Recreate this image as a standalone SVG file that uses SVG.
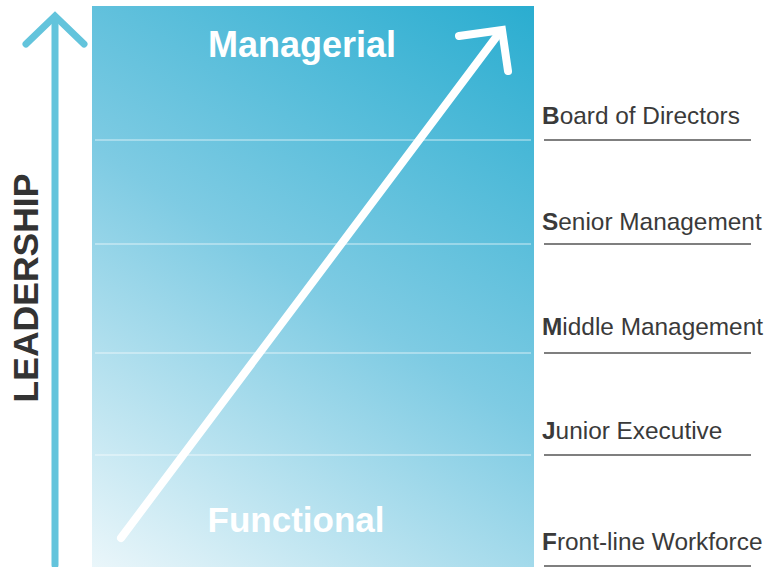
<svg xmlns="http://www.w3.org/2000/svg" width="782" height="567" viewBox="0 0 782 567">
<defs>
<linearGradient id="bg" gradientUnits="userSpaceOnUse" x1="92" y1="567" x2="469" y2="-35">
<stop offset="0" stop-color="#eaf6fa"/>
<stop offset="0.5" stop-color="#7ecbe3"/>
<stop offset="1" stop-color="#2aadd0"/>
</linearGradient>
<style>
.lbl{font-family:"Liberation Sans",Arial,sans-serif;font-size:24.4px;fill:#3a3a3a}
.lbl tspan.b{font-weight:bold}
.rule{stroke:#555;stroke-width:1.3}
.band{stroke:#ffffff;stroke-opacity:0.7;stroke-width:1.2}
.big{font-family:"Liberation Sans",Arial,sans-serif;font-weight:bold;fill:#fff;text-anchor:middle}
</style>
</defs>
<g id="panel">
<rect x="92" y="6" width="442" height="561" fill="url(#bg)"/>
<line class="band" x1="95" y1="140" x2="531" y2="140"/>
<line class="band" x1="95" y1="244" x2="531" y2="244"/>
<line class="band" x1="95" y1="353" x2="531" y2="353"/>
<line class="band" x1="95" y1="455" x2="531" y2="455"/>
<text class="big" x="302" y="57" font-size="36">Managerial</text>
<text class="big" x="296" y="532" font-size="35">Functional</text>
</g>
<g id="connectors">
<line x1="121" y1="538" x2="497" y2="36" stroke="#fff" stroke-width="8" stroke-linecap="round"/>
<polyline points="459,36 502,30 508,71" fill="none" stroke="#fff" stroke-width="8" stroke-linecap="round" stroke-linejoin="miter"/>
<line x1="55" y1="18" x2="55" y2="565" stroke="#63c4dc" stroke-width="7" stroke-linecap="round"/>
<polyline points="26,44 55,16 84,44" fill="none" stroke="#63c4dc" stroke-width="7" stroke-linecap="round"/>
</g>
<g id="leadership">
<text x="38" y="288" transform="rotate(-90 38 288)" text-anchor="middle" font-family="Liberation Sans,Arial,sans-serif" font-weight="bold" font-size="35.5" fill="#333">LEADERSHIP</text>
</g>
<g id="board">
<text class="lbl" x="542" y="124"><tspan class="b">B</tspan>oard of Directors</text>
<line class="rule" x1="544" y1="140" x2="751" y2="140"/>
</g>
<g id="senior">
<text class="lbl" x="542" y="230"><tspan class="b">S</tspan>enior Management</text>
<line class="rule" x1="544" y1="244" x2="751" y2="244"/>
</g>
<g id="middle">
<text class="lbl" x="542" y="335"><tspan class="b">M</tspan>iddle Management</text>
<line class="rule" x1="544" y1="353" x2="751" y2="353"/>
</g>
<g id="junior">
<text class="lbl" x="542" y="439"><tspan class="b">J</tspan>unior Executive</text>
<line class="rule" x1="544" y1="455" x2="751" y2="455"/>
</g>
<g id="frontline">
<text class="lbl" x="542" y="550"><tspan class="b">F</tspan>ront-line Workforce</text>
<line class="rule" x1="544" y1="566" x2="751" y2="566"/>
</g>
</svg>
